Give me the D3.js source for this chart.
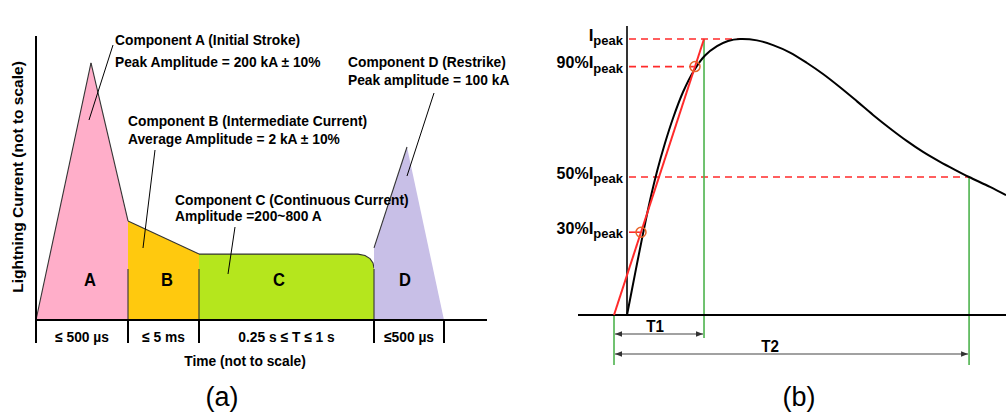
<!DOCTYPE html>
<html><head><meta charset="utf-8">
<script src="https://cdn.jsdelivr.net/npm/d3@7"></script>
<style>body{margin:0;background:#fff}svg{display:block}text{font-family:"Liberation Sans",Arial,sans-serif}</style>
</head><body><div id="c"></div>
<script>
// ---------- Panel (a) data (time and current not to scale) ----------
const segNames = ["A","B","C","D"];
const segColors = ["#FFAEC9","#FFC90E","#B5E61D","#C8BFE7"];
const boundaries = [0, 9.2, 16.3, 33.8, 40.8];       // segment edges (arbitrary time units)
const durationLabels = ["≤ 500 µs","≤ 5 ms","0.25 s ≤ T ≤ 1 s","≤500 µs"];
const segLabelT = [5.4, 13.1, 24.3, 36.9];
const segLabelI = 14;
// outline of each component: [t, current]
const shapeA = [[0,0],[5.5,90.5],[9.2,34.9],[9.2,0]];
const shapeB = [[9.2,0],[9.2,34.9],[16.3,23.2],[16.3,0]];
const shapeC = [[16.3,0],[16.3,23.2],[32.2,23.2],[32.9,22.7],[33.4,21.6],[33.7,20.1],[33.8,18.3],[33.8,0]];
const shapeD = [[33.8,0],[33.8,25.4],[37.1,60.9],[40.8,0]];
const shapes = [shapeA, shapeB, shapeC, shapeD];

// ---------- Panel (b) data ----------
const waveT = [3.66, 5.92, 8.17, 10.14, 12.11, 14.37, 16.62, 19.44, 22.54, 25.63, 29.01, 32.11, 35.49,
               40.28, 44.79, 49.58, 54.37, 58.87, 63.66, 68.45, 72.96, 77.75, 82.54, 87.04, 91.83, 95.9, 100, 105.9, 110.4];
const waveI = [0, 14.9, 29.5, 41.5, 52, 62.3, 71.3, 80.8, 88.6, 94, 97.4, 99.3, 100,
               99.5, 97.8, 95.1, 91.3, 87.3, 82.5, 77.4, 72.5, 67.6, 63.0, 59.1, 55.5, 52.7, 50, 46.4, 43.4];
const T1 = 25.35, T2 = 100;
const levels = [100, 90, 50, 30];
const levelPrefix = ["", "90%", "50%", "30%"];
const levelEndT = [35.5, 22.5, 100, 7.3];
const circleLevels = [90, 30];

const W = 1006, H = 417;
const svg = d3.select("#c").append("svg").attr("width", W).attr("height", H);
svg.append("rect").attr("width", W).attr("height", H).attr("fill", "#fff");

// ===== Panel (a) =====
const xa = d3.scaleLinear().domain([0, 45.1]).range([36, 487]);
const ya = d3.scaleLinear().domain([0, 100]).range([320, 36]);
const ga = svg.append("g");
const line = d3.line().x(d => xa(d[0])).y(d => ya(d[1]));

shapes.forEach((s, i) => {
  ga.append("path").attr("d", line(s) + "Z").attr("fill", segColors[i]).attr("stroke", "none");
  ga.append("path").attr("d", line(s.slice(1, s.length - 1)))
    .attr("fill", "none").attr("stroke", "#333").attr("stroke-width", 1.1);
});
ga.append("path").attr("d", line(shapeA.slice(0, 2))).attr("fill", "none").attr("stroke", "#333").attr("stroke-width", 1.1);
boundaries.slice(1, 4).forEach(b => {
  ga.append("line").attr("x1", xa(b)).attr("x2", xa(b)).attr("y1", ya(0)).attr("y2", ya(18))
    .attr("stroke", "#333").attr("stroke-width", 1.1);
});

function ctext(g, x, y, str, size, anchor, weight, sx) {
  return g.append("text").attr("transform", `translate(${x},${y}) scale(${sx},1)`)
    .attr("font-size", size).attr("font-weight", weight).attr("text-anchor", anchor)
    .attr("fill", "#000").text(str);
}
segNames.forEach((n, i) => ctext(ga, xa(segLabelT[i]), ya(segLabelI) + 6, n, 18, "middle", "bold", 0.92));

// axes
ga.append("line").attr("x1", xa(0)).attr("x2", xa(0)).attr("y1", 36).attr("y2", 343).attr("stroke", "#000").attr("stroke-width", 2);
ga.append("line").attr("x1", xa(0)).attr("x2", xa(45.1)).attr("y1", ya(0)).attr("y2", ya(0)).attr("stroke", "#000").attr("stroke-width", 2);
boundaries.forEach(b => ga.append("line").attr("x1", xa(b)).attr("x2", xa(b)).attr("y1", ya(0)).attr("y2", 343).attr("stroke", "#000").attr("stroke-width", 2));
durationLabels.forEach((l, i) => ctext(ga, (xa(boundaries[i]) + xa(boundaries[i + 1])) / 2, 342, l, 15, "middle", "bold", 0.92));
ctext(ga, 245, 366, "Time (not to scale)", 15, "middle", "bold", 0.92);
ga.append("text").attr("transform", "translate(23,177) rotate(-90)").attr("text-anchor", "middle")
  .attr("font-size", 15.5).attr("font-weight", "bold").text("Lightning Current (not to scale)");

// annotations
const notes = [
  [115, 45, "Component A (Initial Stroke)"],
  [115, 67, "Peak Amplitude = 200 kA ± 10%"],
  [348, 67, "Component D (Restrike)"],
  [348, 85, "Peak amplitude = 100 kA"],
  [128, 126, "Component B (Intermediate Current)"],
  [128, 144, "Average Amplitude = 2 kA ± 10%"],
  [175, 205, "Component C (Continuous Current)"],
  [175, 221, "Amplitude =200~800 A"]
];
notes.forEach(n => ctext(ga, n[0], n[1], n[2], 15, "start", "bold", 0.92));
const leaders = [[113,45,89,120],[155,150,143,248],[235,227,228,274],[434,93,407,176]];
leaders.forEach(l => ga.append("line").attr("x1", l[0]).attr("y1", l[1]).attr("x2", l[2]).attr("y2", l[3]).attr("stroke", "#000").attr("stroke-width", 1));
ga.append("text").attr("x", 222).attr("y", 406).attr("text-anchor", "middle").attr("font-size", 27).text("(a)");

// ===== Panel (b) =====
const xb = d3.scaleLinear().domain([-10.14, 110.4]).range([578, 1006]);
const yb = d3.scaleLinear().domain([0, 100]).range([315, 39]);
const gb = svg.append("g");
const green = "#4DB34D", red = "#FF2A2A";

levels.forEach((lv, i) => {
  gb.append("line").attr("x1", 629).attr("x2", xb(levelEndT[i])).attr("y1", yb(lv)).attr("y2", yb(lv))
    .attr("stroke", red).attr("stroke-width", 1.6).attr("stroke-dasharray", lv === 30 ? null : "7,5");
});
gb.append("line").attr("x1", xb(0)).attr("x2", xb(0)).attr("y1", yb(0)).attr("y2", 365).attr("stroke", green).attr("stroke-width", 1.6);
gb.append("line").attr("x1", xb(T1)).attr("x2", xb(T1)).attr("y1", yb(100)).attr("y2", 338).attr("stroke", green).attr("stroke-width", 1.6);
gb.append("line").attr("x1", xb(T2)).attr("x2", xb(T2)).attr("y1", yb(50)).attr("y2", 365).attr("stroke", green).attr("stroke-width", 1.6);
gb.append("line").attr("x1", 627).attr("x2", 627).attr("y1", 26).attr("y2", yb(0)).attr("stroke", "#000").attr("stroke-width", 1.6);
gb.append("line").attr("x1", 578).attr("x2", 1006).attr("y1", yb(0)).attr("y2", yb(0)).attr("stroke", "#000").attr("stroke-width", 2);
const wave = waveT.map((t, i) => [t, waveI[i]]);
gb.append("path").attr("d", d3.line().x(d => xb(d[0])).y(d => yb(d[1])).curve(d3.curveCatmullRom.alpha(0.5))(wave))
  .attr("fill", "none").attr("stroke", "#000").attr("stroke-width", 2);
gb.append("line").attr("x1", xb(0)).attr("y1", yb(0)).attr("x2", xb(T1)).attr("y2", yb(100)).attr("stroke", red).attr("stroke-width", 2);
circleLevels.forEach(lv => {
  gb.append("circle").attr("cx", xb(T1 * lv / 100)).attr("cy", yb(lv)).attr("r", 5)
    .attr("fill", "none").attr("stroke", "#E8652A").attr("stroke-width", 1.5);
});
levels.forEach((lv, i) => {
  const t = gb.append("text").attr("x", 623).attr("y", yb(lv) + 1.5).attr("text-anchor", "end")
    .attr("font-weight", "bold").attr("font-size", 16).attr("fill", "#000");
  t.append("tspan").text(levelPrefix[i]);
  t.append("tspan").attr("font-size", 17).text("I");
  t.append("tspan").attr("font-size", 13).attr("dy", 4.5).text("peak");
});
const defs = svg.append("defs");
defs.append("marker").attr("id", "ah").attr("viewBox", "0 0 10 10").attr("refX", 10).attr("refY", 5)
  .attr("markerWidth", 7).attr("markerHeight", 7).attr("orient", "auto-start-reverse").attr("markerUnits", "userSpaceOnUse")
  .append("path").attr("d", "M0,1L10,5L0,9Z").attr("fill", "#333");
const spans = [[0, T1, 334], [0, T2, 354]];
spans.forEach(s => {
  gb.append("line").attr("x1", xb(s[0]) + 1).attr("x2", xb(s[1]) - 1).attr("y1", s[2]).attr("y2", s[2])
    .attr("stroke", "#444").attr("stroke-width", 1.1).attr("marker-start", "url(#ah)").attr("marker-end", "url(#ah)");
});
ctext(gb, 655, 332, "T1", 16, "middle", "bold", 0.95);
ctext(gb, 770, 352, "T2", 16, "middle", "bold", 0.95);
gb.append("text").attr("x", 799).attr("y", 406).attr("text-anchor", "middle").attr("font-size", 27).text("(b)");
</script></body></html>
